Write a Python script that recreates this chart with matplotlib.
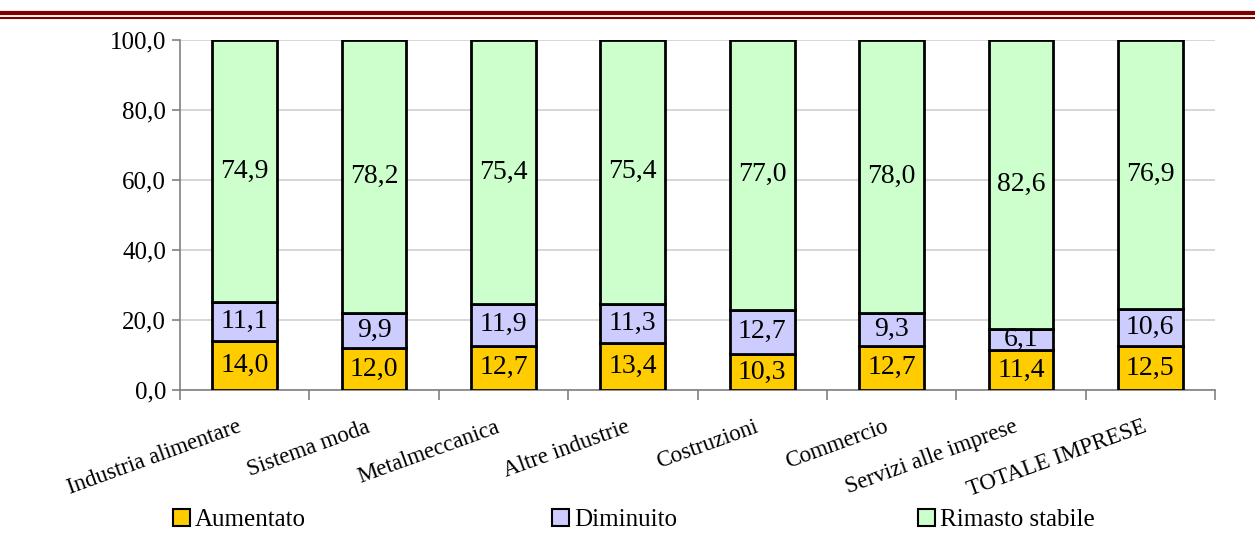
import matplotlib.pyplot as plt
import matplotlib.patches as mpatches
import matplotlib.transforms as mtransforms
from matplotlib.lines import Line2D
import numpy as np

plt.rcParams['font.family'] = ['Liberation Serif', 'DejaVu Serif']

categories = ['Industria alimentare', 'Sistema moda', 'Metalmeccanica', 'Altre industrie',
              'Costruzioni', 'Commercio', 'Servizi alle imprese', 'TOTALE IMPRESE']
aumentato = [14.0, 12.0, 12.7, 13.4, 10.3, 12.7, 11.4, 12.5]
diminuito = [11.1, 9.9, 11.9, 11.3, 12.7, 9.3, 6.1, 10.6]
stabile = [74.9, 78.2, 75.4, 75.4, 77.0, 78.0, 82.6, 76.9]

series_names = ['Aumentato', 'Diminuito', 'Rimasto stabile']
colors = ['#ffcc00', '#ccccff', '#ccffcc']

fig = plt.figure(figsize=(12.55, 5.34), dpi=100)

# double red rule at the top
fig.add_artist(Line2D([0, 1], [1 - 13/534, 1 - 13/534], color='#800000', lw=3.0))
fig.add_artist(Line2D([0, 1], [1 - 17.5/534, 1 - 17.5/534], color='#800000', lw=1.5))

ax = fig.add_axes([180/1255, 1 - 390/534, 1035/1255, 350/534])

x = np.arange(len(categories))
width = 0.5
bottom = np.zeros(len(categories))
for vals, col in zip([aumentato, diminuito, stabile], colors):
    vals = np.array(vals)
    ax.bar(x, vals, width=width, bottom=bottom, color=col, edgecolor='black',
           linewidth=2, zorder=3)
    for xi, b, v in zip(x, bottom, vals):
        ax.text(xi, b + v / 2, f'{v:.1f}'.replace('.', ','), ha='center', va='center',
                fontsize=20, zorder=4)
    bottom = bottom + vals

ax.set_xlim(-0.5, len(categories) - 0.5)
ax.set_ylim(0, 100)
ax.set_yticks(np.arange(0, 101, 20))
ax.set_yticklabels([f'{v:.1f}'.replace('.', ',') for v in np.arange(0, 101, 20)], fontsize=18)
ax.yaxis.grid(True, color='#d0d0d0', lw=1.2, zorder=0)

ax.set_xticks(x)
ax.set_xticklabels(categories, rotation=20, ha='right', va='top',
                   rotation_mode='anchor', fontsize=16.5)
ax.tick_params(axis='x', length=0, pad=19)
shift = mtransforms.ScaledTranslation(-8/100, 0, fig.dpi_scale_trans)
for lbl in ax.get_xticklabels():
    lbl.set_transform(lbl.get_transform() + shift)
ax.set_xticks(np.arange(-0.5, len(categories)), minor=True)
ax.tick_params(axis='x', which='minor', length=7, color='#808080', width=1.2)
ax.tick_params(axis='y', length=6, color='#808080', width=1.2, pad=4)

for side in ['top', 'right']:
    ax.spines[side].set_visible(False)
for side in ['left', 'bottom']:
    ax.spines[side].set_color('#808080')
    ax.spines[side].set_linewidth(1.2)

# legend entries spread along the bottom
legend_x = [173/1255, 552/1255, 918/1255]
for name, col, lx in zip(series_names, colors, legend_x):
    h = mpatches.Patch(facecolor=col, edgecolor='black', linewidth=1.5, label=name)
    fig.legend(handles=[h], loc='center left', bbox_to_anchor=(lx, 1 - 520/534),
               frameon=False, fontsize=18, handlelength=0.68, handleheight=0.68,
               handletextpad=0.2, borderaxespad=0, borderpad=0)

fig.savefig('out.png', dpi=100)
